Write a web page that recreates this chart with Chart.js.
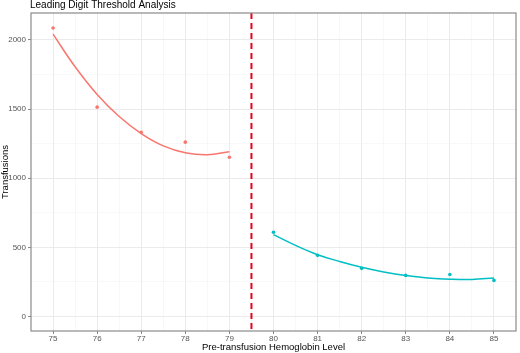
<!DOCTYPE html>
<html>
<head>
<meta charset="utf-8">
<script src="https://cdn.jsdelivr.net/npm/chart.js@4"></script>
<style>
  html, body { margin: 0; padding: 0; background: #fff; }
  #wrap { width: 520px; height: 353px; }
</style>
</head>
<body>
<div id="wrap"><canvas id="myChart" width="520" height="353"></canvas></div>
<script>
// observed counts
let below_x = [75, 76, 77, 78, 79]
let below_y = [2087, 1514, 1333, 1261, 1152]
let above_x = [80, 81, 82, 83, 84, 85]
let above_y = [609, 442, 348, 297, 304, 261]

// smoothed fit
let fit_below_x = [75, 75.5, 76, 76.5, 77, 77.5, 78, 78.5, 79]
let fit_below_y = [2042, 1806, 1606, 1446, 1323, 1234, 1184, 1170, 1192]
let fit_above_x = [80, 80.5, 81, 81.5, 82, 82.5, 83, 83.5, 84, 84.5, 85]
let fit_above_y = [592, 514, 447, 398, 356, 322, 296, 279, 270, 268, 279]

let threshold = 79.5
let x_range = [74.5, 85.5]
let y_range = [-105, 2195]
// grid positions; labels only on the major ones
let x_ticks = [75, 75.5, 76, 76.5, 77, 77.5, 78, 78.5, 79, 79.5, 80, 80.5, 81, 81.5, 82, 82.5, 83, 83.5, 84, 84.5, 85]
let y_ticks = [0, 250, 500, 750, 1000, 1250, 1500, 1750, 2000]

const red = '#F8766D'
const teal = '#00BFC4'
const font = "'Liberation Sans', Arial, sans-serif"

const pts = (xs, ys) => xs.map((x, i) => ({ x: x, y: ys[i] }))
const isMajorX = (v) => Number.isInteger(v)
const isMajorY = (v) => v % 500 === 0

const panelPlugin = {
    id: 'panel',
    afterDatasetsDraw(chart) {
        let ctx = chart.ctx
        let a = chart.chartArea
        let px = chart.scales.x.getPixelForValue(threshold)
        ctx.save()
        ctx.strokeStyle = '#e8001c'
        ctx.lineWidth = 2
        ctx.setLineDash([6, 4])
        ctx.beginPath()
        ctx.moveTo(px, a.top)
        ctx.lineTo(px, a.bottom)
        ctx.stroke()
        ctx.setLineDash([])
        ctx.strokeStyle = '#8a8a8a'
        ctx.lineWidth = 1.2
        ctx.strokeRect(a.left, a.top, a.right - a.left, a.bottom - a.top)
        ctx.fillStyle = '#000'
        ctx.font = '10px ' + font
        ctx.textBaseline = 'middle'
        ctx.fillText('Leading Digit Threshold Analysis', 30, 5)
        ctx.restore()
    }
}

const ctx = document.getElementById('myChart')

new Chart(ctx, {
    type: 'scatter',
    data: {
        datasets: [
            { data: pts(below_x, below_y), backgroundColor: red, borderColor: red, pointRadius: 1.8, borderWidth: 0 },
            { data: pts(above_x, above_y), backgroundColor: teal, borderColor: teal, pointRadius: 1.8, borderWidth: 0 },
            { data: pts(fit_below_x, fit_below_y), type: 'line', showLine: true, borderColor: red, borderWidth: 1.5, pointRadius: 0, tension: 0.4, fill: false },
            { data: pts(fit_above_x, fit_above_y), type: 'line', showLine: true, borderColor: teal, borderWidth: 1.5, pointRadius: 0, tension: 0.4, fill: false }
        ]
    },
    options: {
        responsive: false,
        animation: false,
        layout: { padding: { top: 13, right: 2, left: 0, bottom: 0 } },
        plugins: {
            legend: { display: false },
            tooltip: { enabled: false }
        },
        scales: {
            x: {
                type: 'linear',
                min: x_range[0],
                max: x_range[1],
                afterBuildTicks: (s) => { s.ticks = x_ticks.map(v => ({ value: v })) },
                afterFit: (s) => { s.height = 22 },
                border: { display: false },
                grid: {
                    color: (c) => isMajorX(c.tick.value) ? '#ebebeb' : '#f4f4f4',
                    lineWidth: (c) => isMajorX(c.tick.value) ? 1 : 0.6,
                    tickColor: (c) => isMajorX(c.tick.value) ? '#8a8a8a' : 'rgba(0,0,0,0)',
                    tickLength: 3
                },
                ticks: {
                    autoSkip: false,
                    maxRotation: 0,
                    padding: 0,
                    color: '#555',
                    font: { family: font, size: 8 },
                    callback: (v) => isMajorX(v) ? v : ''
                },
                title: {
                    display: true,
                    text: 'Pre-transfusion Hemoglobin Level',
                    color: '#000',
                    font: { family: font, size: 9.5 },
                    padding: { top: 0, bottom: 0 }
                }
            },
            y: {
                min: y_range[0],
                max: y_range[1],
                afterBuildTicks: (s) => { s.ticks = y_ticks.map(v => ({ value: v })) },
                afterFit: (s) => { s.width = 31 },
                border: { display: false },
                grid: {
                    color: (c) => isMajorY(c.tick.value) ? '#ebebeb' : '#f4f4f4',
                    lineWidth: (c) => isMajorY(c.tick.value) ? 1 : 0.6,
                    tickColor: (c) => isMajorY(c.tick.value) ? '#8a8a8a' : 'rgba(0,0,0,0)',
                    tickLength: 3
                },
                ticks: {
                    autoSkip: false,
                    padding: 2,
                    color: '#555',
                    font: { family: font, size: 8 },
                    callback: (v) => isMajorY(v) ? v : ''
                },
                title: {
                    display: true,
                    text: 'Transfusions',
                    color: '#000',
                    font: { family: font, size: 9.5 },
                    padding: { top: 0, bottom: 0 }
                }
            }
        }
    },
    plugins: [panelPlugin]
})
</script>
</body>
</html>
